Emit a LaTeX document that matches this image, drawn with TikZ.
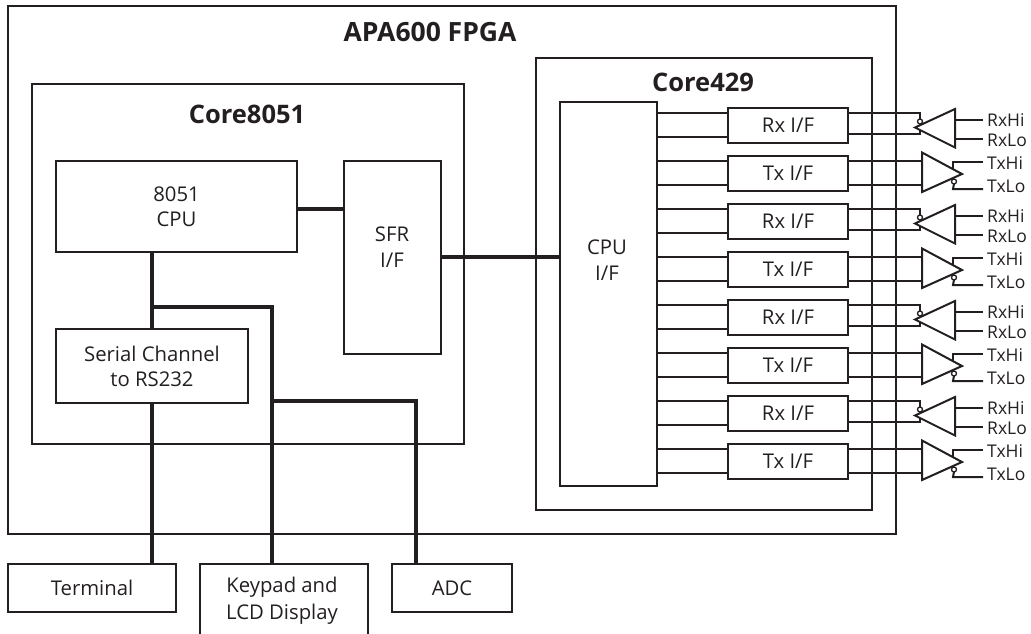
\documentclass[tikz,border=0pt]{standalone}
\usepackage{fontspec}
\setmainfont{Open Sans}
\usetikzlibrary{calc}
\definecolor{ink}{HTML}{231F20}
\begin{document}
\begin{tikzpicture}[x=1pt,y=-1pt,
  every node/.style={text=ink},
  box/.style={draw=ink,line width=2pt,inner sep=0pt,outer sep=0pt,align=center,font=\fontsize{20.3}{25}\selectfont},
  label/.style={align=center,inner sep=0pt,font=\fontsize{20.3}{25.5}\selectfont},
  wire/.style={draw=ink,line width=2pt},
  bus/.style={draw=ink,line width=4.6pt},
  head/.style={font=\bfseries\fontsize{25.5}{30}\selectfont,inner sep=0pt},
  pin/.style={font=\fontsize{17.5}{20}\selectfont,inner sep=0pt,anchor=west},
  tri/.style={draw=ink,line width=2pt,line join=miter},
  bubble/.style={circle,draw=ink,line width=1.3pt,minimum size=5pt,inner sep=0pt,outer sep=0pt}]
\useasboundingbox (0,0) rectangle (1031,634);
\newcommand{\mybox}[6]{\node[box,minimum width=#4pt,minimum height=#5pt,anchor=north west] (#1) at (#2,#3) {#6};}
\mybox{fpga}{8}{6}{888}{528}{}
\node[head,font=\bfseries\fontsize{26.5}{30}\selectfont] (fpgat) at (430,32.5) {APA600 FPGA};
\mybox{c8051}{32}{84}{432}{360}{}
\node[head] (c8051t) at (247,114) {Core8051};
\mybox{c429}{536}{58}{336}{452}{}
\node[head] (c429t) at (703,82) {Core429};
\mybox{cpu}{56}{161}{241}{91}{8051\\CPU}
\mybox{sfr}{344}{161}{97}{193}{}
\node[label] (sfrt) at (392,247) {SFR\\I/F};
\mybox{ser}{56}{329}{192}{74}{Serial Channel\\to RS232}
\mybox{cif}{560}{102}{97}{384}{}
\node[label] (ciftxt) at (607,260) {CPU\\I/F};
\mybox{term}{8}{564}{168}{48}{Terminal}
\mybox{adc}{392}{564}{120}{48}{ADC}
% keypad: open at the bottom
\coordinate (kpa) at (200,634); \coordinate (kpb) at (200,564); \coordinate (kpc) at (368,564); \coordinate (kpd) at (368,634);
\draw[draw=ink,line width=2pt] (kpa) -- (kpb) -- (kpc) -- (kpd);
\node[align=center,inner sep=0pt,font=\fontsize{20.3}{27}\selectfont] (kp) at (282,601) {Keypad and\\LCD Display};
% buses
\coordinate (b1) at (152,307); \coordinate (b2) at (272,307); \coordinate (b3) at (272,401); \coordinate (b4) at (416,401);
\draw[bus] (cpu.south -| b1) -- (ser.north -| b1);
\draw[bus] (ser.south -| b1) -- (term.north -| b1);
\draw[bus] (b1) -- (b2) -- (kpb -| b2);
\draw[bus] (b3) -- (b4) -- (adc.north -| b4);
\coordinate (b5) at (0,209); \coordinate (b6) at (0,257);
\draw[bus] (cpu.east |- b5) -- (sfr.west |- b5);
\draw[bus] (sfr.east |- b6) -- (cif.west |- b6);
% channels
\foreach \i/\nm/\kind in {0/Rx/r,1/Tx/t,2/Rx/r,3/Tx/t,4/Rx/r,5/Tx/t,6/Rx/r,7/Tx/t}{
  \pgfmathsetmacro{\yy}{108+48*\i}
  \mybox{ch\i}{728}{\yy}{120}{34.5}{\nm{} I/F}
  \coordinate (u\i) at (0,\yy+5);
  \coordinate (l\i) at (0,\yy+29);
  \draw[wire] (cif.east |- u\i) -- (ch\i.west |- u\i);
  \draw[wire] (cif.east |- l\i) -- (ch\i.west |- l\i);
}
\foreach \i in {0,2,4,6}{
  \pgfmathsetmacro{\yy}{108+48*\i}
  \coordinate (ra\i) at (915,\yy+19.5);
  \coordinate (rb\i) at (955,\yy+1);
  \coordinate (rc\i) at (955,\yy+39.5);
  \coordinate (lr\i) at (0,\yy+26);
  \coordinate (rx\i) at (920,0);
  \coordinate (ho\i) at (983,\yy+12);
  \coordinate (lo\i) at (983,\yy+31);
  \draw[tri] (ra\i) -- (rb\i) -- (rc\i) -- cycle;
  \node[bubble] (rbub\i) at (920,\yy+13.5) {};
  \draw[wire] (ch\i.east |- u\i) -- (rx\i |- u\i) -- (rbub\i.north);
  \draw[wire] (ch\i.east |- lr\i) -- (rx\i |- lr\i) -- (920,\yy+22);
  \draw[wire] (rb\i |- ho\i) -- (ho\i);
  \draw[wire] (rb\i |- lo\i) -- (lo\i);
  \node[pin] (hi\i) at (987,\yy+12) {RxHi};
  \node[pin] (lt\i) at (987,\yy+32) {RxLo};
}
\foreach \i in {1,3,5,7}{
  \pgfmathsetmacro{\yy}{108+48*\i}
  \coordinate (ta\i) at (922,\yy-3.5);
  \coordinate (tb\i) at (922,\yy+36);
  \coordinate (tc\i) at (962,\yy+18);
  \coordinate (ho\i) at (983,\yy+6);
  \coordinate (lo\i) at (983,\yy+33);
  \coordinate (tx\i) at (953,0);
  \draw[tri] (ta\i) -- (tb\i) -- (tc\i) -- cycle;
  \node[bubble] (tbub\i) at (954,\yy+25.5) {};
  \draw[wire] (ho\i) -- (tx\i |- ho\i) -- (953,\yy+13);
  \draw[wire] (lo\i) -- (tx\i |- lo\i) -- (tbub\i.south);
  \draw[wire] (ch\i.east |- u\i) -- (ta\i |- u\i);
  \draw[wire] (ch\i.east |- l\i) -- (ta\i |- l\i);
  \node[pin] (hi\i) at (987,\yy+7) {TxHi};
  \node[pin] (lt\i) at (987,\yy+30) {TxLo};
}
\end{tikzpicture}
\end{document}
